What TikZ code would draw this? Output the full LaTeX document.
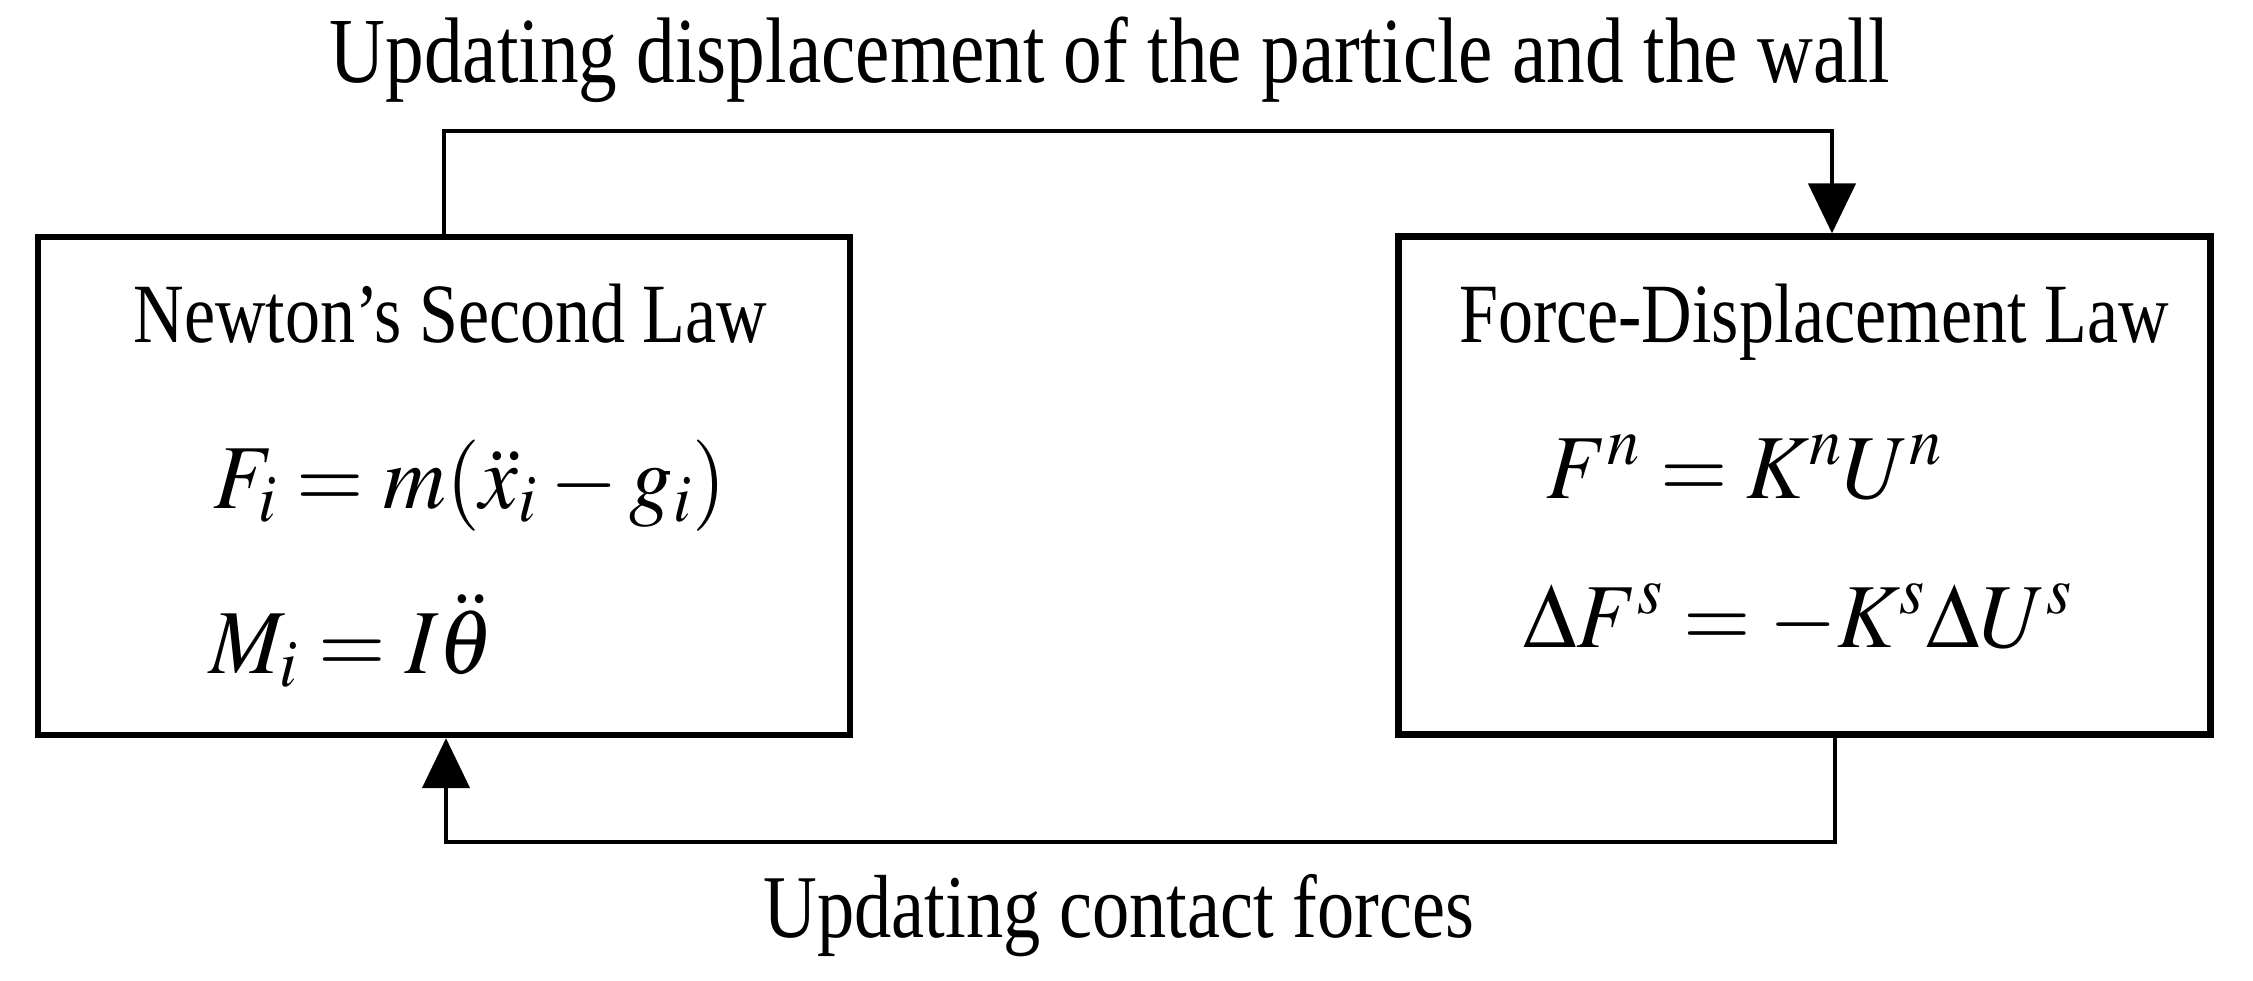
\documentclass[tikz,border=0pt]{standalone}
\usepackage{mathptmx}
\usepackage{fontspec}
\setmainfont{Liberation Serif}[FakeStretch=0.83]
\usetikzlibrary{arrows.meta, positioning}

\newcommand{\squeezed}[1]{\scalebox{0.95}[1]{$#1$}}

\begin{document}
\begin{tikzpicture}[
        law/.style={draw=black, line width=1.8pt, rectangle, minimum width=8.12cm, minimum height=4.98cm, inner sep=0pt},
        title/.style={font=\fontsize{24}{28}\selectfont, inner sep=0pt, anchor=base},
        label_style/.style={font=\fontsize{25.5}{30}\selectfont, inner sep=0pt, anchor=base},
        eq/.style={font=\fontsize{26}{30}\selectfont, inner sep=0pt, anchor=base west},
        flow/.style={line width=1.3pt, draw=black, -{Triangle[length=5mm, width=4.7mm]}}
    ]
        \useasboundingbox (0,0) rectangle (22.53,-9.81);

        % --- Boxes ---
        \node[law] (newton) at (4.44,-4.86) {};
        \node[law] (forcedisp) at (18.045,-4.855) {};

        % --- Box titles ---
        \node[title] (newton_title) at (4.505,-3.42) {Newton’s Second Law};
        \node[title] (fd_title) at (18.14,-3.42) {Force-Displacement Law};

        % --- Equations ---
        \node[eq] (eq_force) at (2.13,-5.08) {\squeezed{F_i = m(\ddot{x}_i - g_i)}};
        \node[eq] (eq_moment) at (2.09,-6.73) {\squeezed{M_i = I\ddot{\theta}}};
        \node[eq] (eq_normal) at (15.46,-4.98) {\squeezed{F^n = K^n U^n}};
        \node[eq] (eq_shear) at (15.23,-6.47) {\squeezed{\Delta F^s = -K^s \Delta U^s}};

        % --- Loop corners ---
        \coordinate (topL) at (4.44,-1.31);
        \coordinate (topR) at (18.32,-1.31);
        \coordinate (botR) at (18.35,-8.42);
        \coordinate (botL) at (4.46,-8.42);

        % --- Connectors ---
        \draw[flow] (newton.north) -- (topL) -- (topR) -- (topR |- forcedisp.north);
        \draw[flow] (botR |- forcedisp.south) -- (botR) -- (botL) -- (botL |- newton.south);

        % --- Labels ---
        \node[label_style, font=\fontsize{26.5}{30}\selectfont] (upd_disp) at (11.10,-0.82) {Updating displacement of the particle and the wall};
        \node[label_style] (upd_force) at (11.19,-9.37) {Updating contact forces};
    \end{tikzpicture}
\end{document}
